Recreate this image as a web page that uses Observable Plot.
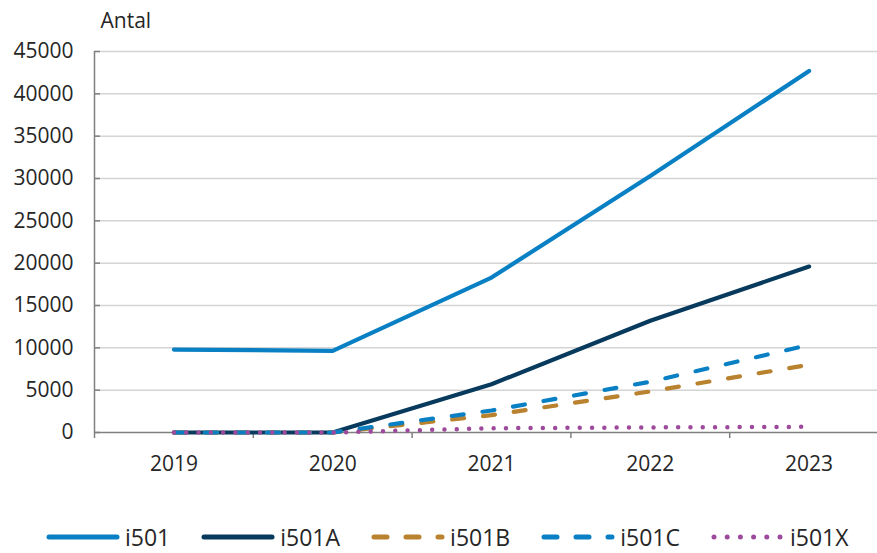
<!DOCTYPE html>
<html>
<head>
<meta charset="utf-8">
<script src="https://cdn.jsdelivr.net/npm/d3@7"></script>
<script src="https://cdn.jsdelivr.net/npm/@observablehq/plot@0.6"></script>
<style>
  html, body { margin: 0; padding: 0; background: #fff; }
  body { width: 877px; height: 553px; overflow: hidden; font-family: "Open Sans", sans-serif; color: #262626; }
  #chart svg { display: block; }
  #legend { display: flex; align-items: center; padding-left: 46px; height: 32px; margin-top: 31px; font-size: 23px; line-height: 24px; }
  .item { display: flex; align-items: center; margin-right: 31px; }
  .item svg { margin-right: 5px; }
</style>
</head>
<body>
<div id="chart"></div>
<div id="legend"></div>
<script>
const years = [2019, 2020, 2021, 2022, 2023];
const seriesNames = ["i501", "i501A", "i501B", "i501C", "i501X"];
const i501  = [9800, 9650, 18300, 30300, 42700];
const i501A = [0, 0, 5700, 13200, 19600];
const i501B = [0, 0, 2050, 4850, 8000];
const i501C = [0, 0, 2600, 6000, 10350];
const i501X = [0, 0, 500, 600, 670];
const yTicks = [0, 5000, 10000, 15000, 20000, 25000, 30000, 35000, 40000, 45000];

const values = {i501, i501A, i501B, i501C, i501X};
const styles = {
  i501:  {stroke: "#0a80c4", dash: null, legendDash: null},
  i501A: {stroke: "#073a5c", dash: null, legendDash: null},
  i501B: {stroke: "#b8822e", dash: "12,19", legendDash: "13,19"},
  i501C: {stroke: "#0a80c4", dash: "12,19", legendDash: "13,19"},
  i501X: {stroke: "#9d4a9c", dash: "0,12.3", legendDash: "0,13.2"}
};

const half = (years[1] - years[0]) / 2;
const seps = years.map(y => y - half).concat([years[years.length - 1] + half]);

const lineMarks = seriesNames.map(name => {
  const rows = years.map((yr, i) => ({year: yr, value: values[name][i]}));
  return Plot.line(rows, {
    x: "year", y: "value",
    stroke: styles[name].stroke,
    strokeWidth: name === "i501X" ? 4.5 : 4.2,
    strokeDasharray: styles[name].dash,
    strokeLinecap: "round",
    strokeLinejoin: "round"
  });
});

const chart = Plot.plot({
  width: 877,
  height: 490,
  marginTop: 51,
  marginBottom: 58,
  marginLeft: 94,
  marginRight: 0,
  style: {fontFamily: "Open Sans", fontSize: "21px", color: "#262626", background: "#fff"},
  x: {type: "linear", domain: [seps[0], seps[seps.length - 1]], range: [94, 888]},
  y: {domain: [0, 45000]},
  marks: [
    Plot.ruleY(yTicks.slice(1), {stroke: "#d4d4d4", strokeWidth: 1.5}),
    Plot.ruleY(yTicks, {x1: seps[0], x2: seps[0], insetRight: -6, stroke: "#808080", strokeWidth: 1.5}),
    Plot.ruleY([0], {stroke: "#808080", strokeWidth: 1.5}),
    Plot.ruleX([seps[0]], {y1: 0, y2: 45000, stroke: "#808080", strokeWidth: 1.5}),
    Plot.axisX(seps, {tickSize: 6, tickFormat: () => "", stroke: "#808080", strokeWidth: 1.5, label: null}),
    Plot.axisX(years, {tickSize: 0, tickPadding: 24, tickFormat: d => String(d), label: null, fill: "#262626"}),
    Plot.axisY(yTicks, {tickSize: 0, tickPadding: 21, tickFormat: d => String(d), label: null, fill: "#262626"}),
    Plot.text(["Antal"], {frameAnchor: "top-left", dx: 6, dy: -30, lineAnchor: "middle", textAnchor: "start", fill: "#262626"}),
    ...lineMarks
  ]
});
document.getElementById("chart").appendChild(chart);

const legend = document.getElementById("legend");
seriesNames.forEach(name => {
  const item = document.createElement("div");
  item.className = "item";
  const st = styles[name];
  item.innerHTML = `<svg width="74" height="12"><line x1="3" y1="6" x2="71" y2="6" stroke="${st.stroke}" stroke-width="5" stroke-linecap="round" ${st.legendDash ? `stroke-dasharray="${st.legendDash}"` : ""}/></svg><span>${name}</span>`;
  legend.appendChild(item);
});
</script>
</body>
</html>
